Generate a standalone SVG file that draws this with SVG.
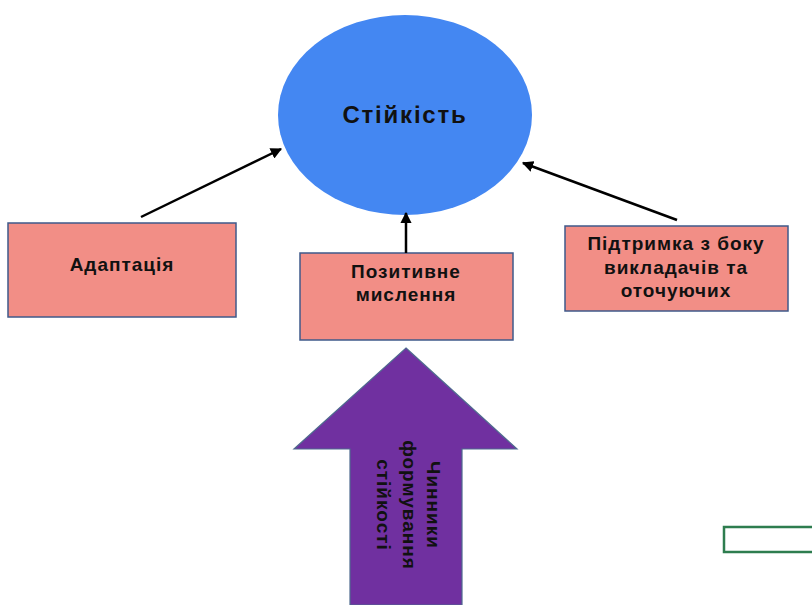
<svg xmlns="http://www.w3.org/2000/svg" width="812" height="605" viewBox="0 0 812 605">
<defs>
<style>
.box{fill:#F28E86;stroke:#3F5A8A;stroke-width:1.5}
.t{font-family:"Liberation Sans",Arial,sans-serif;font-weight:bold;fill:#111;text-anchor:middle;font-size:19px;letter-spacing:1px}
.c{stroke:#000;stroke-width:2.5;fill:none}
</style>
<marker id="ah" viewBox="0 0 10 10" refX="9" refY="5" markerWidth="4.5" markerHeight="4.5" orient="auto" markerUnits="strokeWidth">
<path d="M0,0 L10,5 L0,10 z" fill="#000"/>
</marker>
</defs>
<rect width="812" height="605" fill="#fff"/>
<g id="stiikist">
<ellipse cx="405" cy="115" rx="127" ry="100" fill="#4487F2"/>
<text class="t" x="405" y="123" style="font-size:24px;letter-spacing:1.8px">Стійкість</text>
</g>
<g id="adaptatsiia">
<rect class="box" x="8" y="223" width="228" height="94"/>
<text class="t" x="122" y="271">Адаптація</text>
</g>
<g id="pozytyvne">
<rect class="box" x="300" y="253" width="213" height="87"/>
<text class="t"><tspan x="406" y="277.5">Позитивне</tspan><tspan x="406" y="301">мислення</tspan></text>
</g>
<g id="pidtrymka">
<rect class="box" x="565" y="226" width="223" height="85"/>
<text class="t"><tspan x="676" y="250">Підтримка з боку</tspan><tspan x="676" y="273.5">викладачів та</tspan><tspan x="676" y="297">оточуючих</tspan></text>
</g>
<g id="chynnyky">
<path d="M406,348 L517,449 L462,449 L462,605 L350,605 L350,449 L294,449 Z" fill="#7030A0" stroke="#4F6A8F" stroke-width="1.2"/>
<text class="t" transform="translate(406,505) rotate(90)"><tspan x="0" y="-21">Чинники</tspan><tspan x="0" y="3">формування</tspan><tspan x="0" y="29">стійкості</tspan></text>
</g>
<g id="green-box">
<rect x="724" y="527" width="100" height="25" fill="#fff" stroke="#2E7D4F" stroke-width="2.5"/>
</g>
<g id="connectors">
<line class="c" x1="141" y1="217" x2="281" y2="149" marker-end="url(#ah)"/>
<line class="c" x1="406" y1="253" x2="406" y2="213" marker-end="url(#ah)"/>
<line class="c" x1="677" y1="220" x2="523" y2="163" marker-end="url(#ah)"/>
</g>
</svg>
